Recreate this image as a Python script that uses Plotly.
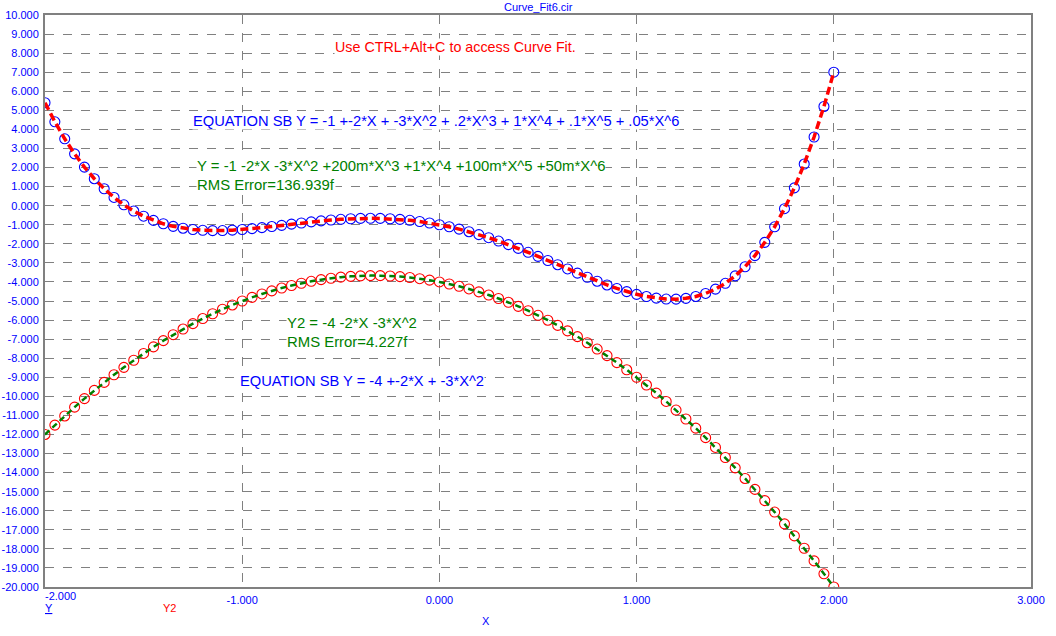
import plotly.graph_objects as go

x_vals = [-2.0, -1.95, -1.9, -1.85, -1.8, -1.75, -1.7, -1.65, -1.6, -1.55, -1.5, -1.45, -1.4, -1.35,
          -1.3, -1.25, -1.2, -1.15, -1.1, -1.05, -1.0, -0.95, -0.9, -0.85, -0.8, -0.75, -0.7, -0.65,
          -0.6, -0.55, -0.5, -0.45, -0.4, -0.35, -0.3, -0.25, -0.2, -0.15, -0.1, -0.05, 0.0, 0.05,
          0.1, 0.15, 0.2, 0.25, 0.3, 0.35, 0.4, 0.45, 0.5, 0.55, 0.6, 0.65, 0.7, 0.75, 0.8, 0.85,
          0.9, 0.95, 1.0, 1.05, 1.1, 1.15, 1.2, 1.25, 1.3, 1.35, 1.4, 1.45, 1.5, 1.55, 1.6, 1.65,
          1.7, 1.75, 1.8, 1.85, 1.9, 1.95, 2.0]

y_vals = [5.4, 4.398, 3.506, 2.717, 2.022, 1.414, 0.887, 0.432, 0.045, -0.282, -0.552, -0.773,
          -0.949, -1.084, -1.183, -1.251, -1.292, -1.308, -1.305, -1.284, -1.25, -1.205, -1.152,
          -1.094, -1.032, -0.970, -0.909, -0.852, -0.799, -0.753, -0.715, -0.686, -0.668, -0.662,
          -0.668, -0.687, -0.720, -0.768, -0.830, -0.908, -1.0, -1.107, -1.230, -1.366, -1.517,
          -1.680, -1.856, -2.043, -2.240, -2.446, -2.659, -2.876, -3.097, -3.319, -3.539, -3.754,
          -3.962, -4.159, -4.342, -4.507, -4.65, -4.766, -4.850, -4.898, -4.903, -4.860, -4.762,
          -4.603, -4.375, -4.072, -3.684, -3.203, -2.620, -1.925, -1.109, -0.159, 0.934, 2.184,
          3.602, 5.203, 7.0]

y2_vals = [-12.0, -11.5075, -11.03, -10.5675, -10.12, -9.6875, -9.27, -8.8675, -8.48, -8.1075,
           -7.75, -7.4075, -7.08, -6.7675, -6.47, -6.1875, -5.92, -5.6675, -5.43, -5.2075, -5.0,
           -4.8075, -4.63, -4.4675, -4.32, -4.1875, -4.07, -3.9675, -3.88, -3.8075, -3.75, -3.7075,
           -3.68, -3.6675, -3.67, -3.6875, -3.72, -3.7675, -3.83, -3.9075, -4.0, -4.1075, -4.23,
           -4.3675, -4.52, -4.6875, -4.87, -5.0675, -5.28, -5.5075, -5.75, -6.0075, -6.28, -6.5675,
           -6.87, -7.1875, -7.52, -7.8675, -8.23, -8.6075, -9.0, -9.4075, -9.83, -10.2675, -10.72,
           -11.1875, -11.67, -12.1675, -12.68, -13.2075, -13.75, -14.3075, -14.88, -15.4675, -16.07,
           -16.6875, -17.32, -17.9675, -18.63, -19.3075, -20.0]

# fitted curves (RMS error ~ 0, so identical to the data)
y_fit = y_vals
y2_fit = y2_vals

x_ticks = [-1, 0, 1, 2, 3]
x_tick_labels = ["-1.000", "0.000", "1.000", "2.000", "3.000"]
y_ticks = list(range(-20, 11))
y_tick_labels = ["%.3f" % v for v in y_ticks]

BLUE = "rgb(0,0,255)"
RED = "rgb(255,0,0)"
GREEN = "rgb(0,128,0)"
GRAY = "rgb(128,128,128)"
FONT = "Liberation Sans, Arial, sans-serif"

fig = go.Figure()
fig.add_trace(go.Scatter(x=x_vals, y=y_vals, mode="markers",
                         marker=dict(symbol="circle-open", size=10, color=BLUE, line=dict(width=1.1, color=BLUE)),
                         showlegend=False))
fig.add_trace(go.Scatter(x=x_vals, y=y2_vals, mode="markers",
                         marker=dict(symbol="circle-open", size=10, color=RED, line=dict(width=1.1, color=RED)),
                         showlegend=False))
fig.add_trace(go.Scatter(x=x_vals, y=y_fit, mode="lines",
                         line=dict(color=RED, width=3.5, dash="8px,4px"), showlegend=False))
fig.add_trace(go.Scatter(x=x_vals, y=y2_fit, mode="lines",
                         line=dict(color=GREEN, width=2.5, dash="6px,4px"), showlegend=False))

L, R, T, B = 45, 25, 15, 49
W, H = 1056, 636
pw, ph = W - L - R, H - T - B


def px(x):
    return (x - L) / pw


def py(y):
    return (H - B - y) / ph


annots = [
    dict(text="Curve_Fit6.cir", x=px(538), y=py(7), xanchor="center", yanchor="middle",
         font=dict(size=11, color=BLUE)),
    dict(text="Use CTRL+Alt+C to access Curve Fit.", x=px(334), y=py(47), xanchor="left", yanchor="middle",
         font=dict(size=14.3, color=RED), bgcolor="white"),
    dict(text="EQUATION SB Y = -1 +-2*X + -3*X^2 + .2*X^3 + 1*X^4 + .1*X^5 + .05*X^6",
         x=px(192), y=py(121), xanchor="left", yanchor="middle", font=dict(size=14.7, color=BLUE), bgcolor="white"),
    dict(text="Y = -1 -2*X -3*X^2 +200m*X^3 +1*X^4 +100m*X^5 +50m*X^6",
         x=px(196), y=py(166), xanchor="left", yanchor="middle", font=dict(size=14.9, color=GREEN), bgcolor="white"),
    dict(text="RMS Error=136.939f", x=px(196), y=py(185), xanchor="left", yanchor="middle",
         font=dict(size=14.9, color=GREEN), bgcolor="white"),
    dict(text="Y2 = -4 -2*X -3*X^2", x=px(286), y=py(323), xanchor="left", yanchor="middle",
         font=dict(size=14.9, color=GREEN), bgcolor="white"),
    dict(text="RMS Error=4.227f", x=px(286), y=py(342), xanchor="left", yanchor="middle",
         font=dict(size=14.9, color=GREEN), bgcolor="white"),
    dict(text="EQUATION SB Y = -4 +-2*X + -3*X^2", x=px(239), y=py(381), xanchor="left", yanchor="middle",
         font=dict(size=14.7, color=BLUE), bgcolor="white"),
    dict(text="-2.000", x=px(44), y=py(596), xanchor="left", yanchor="middle",
         font=dict(size=11, color=BLUE)),
    dict(text="<u>Y</u>", x=px(44), y=py(608), xanchor="left", yanchor="middle",
         font=dict(size=11, color=BLUE)),
    dict(text="Y2", x=px(162), y=py(608), xanchor="left", yanchor="middle",
         font=dict(size=11, color=RED)),
    dict(text="X", x=px(486), y=py(621), xanchor="center", yanchor="middle",
         font=dict(size=11, color=BLUE)),
]
for a in annots:
    a.update(xref="paper", yref="paper", showarrow=False, borderpad=0)

fig.update_layout(
    width=W, height=H,
    margin=dict(l=L, r=R, t=T, b=B),
    plot_bgcolor="white", paper_bgcolor="white",
    font=dict(family=FONT, size=11, color=BLUE),
    annotations=annots,
    xaxis=dict(range=[-2, 3], tickvals=x_ticks, ticktext=x_tick_labels, automargin=False,
               showgrid=True, gridcolor=GRAY, griddash="dash", gridwidth=1,
               showline=True, linecolor=GRAY, linewidth=2, mirror=True,
               zeroline=False, ticks="", ticklabelstandoff=2,
               tickfont=dict(size=11, color=BLUE, family=FONT)),
    yaxis=dict(range=[-20, 10], tickvals=y_ticks, ticktext=y_tick_labels, automargin=False,
               showgrid=True, gridcolor=GRAY, griddash="dash", gridwidth=1,
               showline=True, linecolor=GRAY, linewidth=2, mirror=True,
               zeroline=False, ticks="", ticklabelstandoff=2,
               tickfont=dict(size=11, color=BLUE, family=FONT)),
)

fig.write_html("out.html", config={"displayModeBar": False},
               post_script="document.body.style.margin='0px';")
